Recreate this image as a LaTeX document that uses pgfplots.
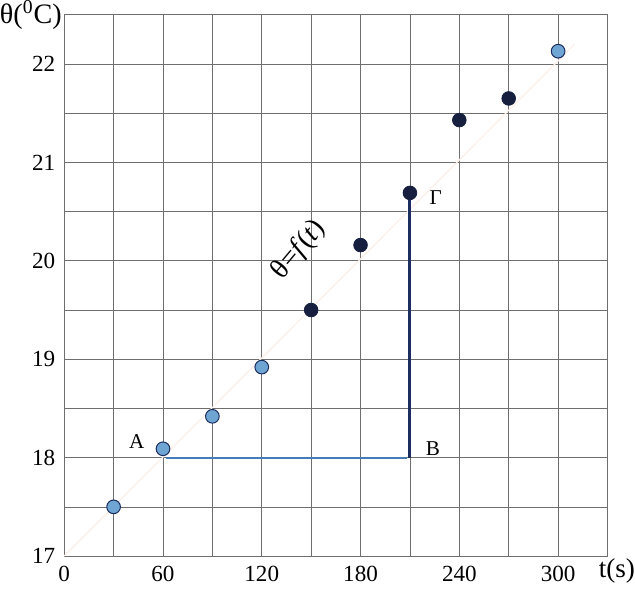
\documentclass[border=0pt]{standalone}
\usepackage{fontspec}
\setmainfont{Liberation Serif}
\usepackage{pgfplots}
\pgfplotsset{compat=1.18}
\definecolor{gridc}{RGB}{110,110,110}
\definecolor{lightpt}{RGB}{110,165,210}
\definecolor{darkpt}{RGB}{22,32,62}
\definecolor{linkb}{RGB}{70,125,185}
\definecolor{navy}{RGB}{28,45,95}
\definecolor{fitc}{RGB}{252,238,232}
\begin{document}
\begin{tikzpicture}
\begin{axis}[
  scale only axis,
  width=270.5pt, height=269.5pt,
  xmin=0, xmax=330, ymin=17, ymax=22.5,
  xtick={0,60,...,300}, minor xtick={30,90,...,330},
  ytick={17,18,...,22}, minor ytick={17.5,18.5,...,22.5},
  grid=both,
  major grid style={gridc, line width=0.35pt},
  minor grid style={gridc, line width=0.35pt},
  axis line style={gridc, line width=0.4pt},
  major tick length=0pt, minor tick length=0pt,
  /pgf/number format/assume math mode=true,
  ticklabel style={font=\rmfamily\fontsize{11.5}{13}\selectfont},
  xticklabel style={yshift=-1.5pt},
  yticklabel style={xshift=-1pt},
  clip=false,
]
  % faint fit line
  \addplot[fitc, line width=0.6pt] coordinates {(0,17) (310,22.2)};
  % construction lines
  \addplot[linkb, line width=1pt] coordinates {(62,18) (208,18)};
  \addplot[navy, line width=1.5pt] coordinates {(210,18) (210,20.69)};
  % measured points
  \addplot[only marks, mark=*, mark size=3.4pt, mark options={fill=lightpt, draw=navy, line width=0.5pt}]
    coordinates {(30,17.5) (60,18.09) (90,18.42) (120,18.92) (300,22.13)};
  \addplot[only marks, mark=*, mark size=3.4pt, mark options={fill=darkpt, draw=darkpt}]
    coordinates {(150,19.5) (180,20.16) (210,20.69) (240,21.43) (270,21.65)};
  % labels
  \node[font=\fontsize{10.5}{12}\selectfont] at (axis cs:44,18.16) {A};
  \node[font=\fontsize{10.5}{12}\selectfont] at (axis cs:224,18.09) {B};
  \node[font=\fontsize{10.5}{12}\selectfont] at (axis cs:225.7,20.64) {Γ};
  \node[font=\fontsize{14}{16}\selectfont, rotate=50, inner sep=0pt] at (axis cs:142.5,20.11) {θ=\textit{f}(\textit{t})};
  \node[font=\fontsize{14}{16}\selectfont, anchor=east, inner sep=0pt] at ([xshift=-1pt]rel axis cs:0,1) {θ(\textsuperscript{0}C)};
  \node[font=\fontsize{13.5}{15}\selectfont, anchor=north west, inner sep=0pt] at ([xshift=-4.5pt,yshift=-1pt]rel axis cs:1,0) {t(s)};
\end{axis}
\end{tikzpicture}
\end{document}
